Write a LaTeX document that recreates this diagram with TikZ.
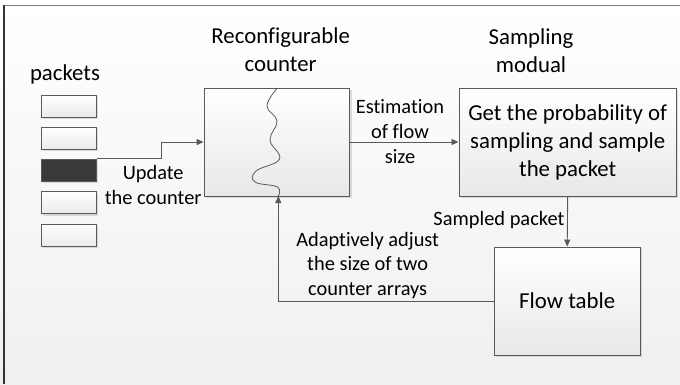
\documentclass[tikz,border=0pt]{standalone}
\usepackage{fontspec}
\setmainfont[Ligatures=NoCommon]{Carlito}
\usetikzlibrary{arrows.meta,shadows}
\definecolor{linegray}{HTML}{595959}
\definecolor{darkpkt}{HTML}{3A3A3A}
\begin{document}
\begin{tikzpicture}[x=1pt,y=-1pt,
  bigfont/.style={font=\fontsize{22.8}{28}\selectfont},
  smallfont/.style={font=\fontsize{20.4}{24.7}\selectfont},
  blockbox/.style={draw=linegray, line width=0.9pt, top color=white, bottom color=black!9,
    drop shadow={shadow xshift=2pt, shadow yshift=-2pt, fill=black, opacity=0.12}},
  pktbox/.style={draw=linegray, line width=0.9pt, top color=white, bottom color=black!8,
    minimum width=55pt, minimum height=22pt, inner sep=0pt,
    drop shadow={shadow xshift=2pt, shadow yshift=-2pt, fill=black, opacity=0.12}},
  conn/.style={draw=linegray, line width=0.9pt, -{Triangle[length=7pt,width=6pt]}},
  lbl/.style={align=center, inner sep=0pt, text=black}]
% canvas and frame
\useasboundingbox (0,0) rectangle (680,384);
\shade[top color=white, bottom color=black!6] (0,0) rectangle (680,384);
\draw[black!50, line width=1.6pt] (4,5.5) -- (680,5.5);
\draw[black!80, line width=1.4pt] (4,5) -- (4,384);

% packet stack
\node[lbl, bigfont] (pktlabel) at (65,74) {packets};
\foreach \i/\y in {1/106, 2/138, 4/202.5, 5/235} {
  \node[pktbox] (p\i) at (68.7,\y) {};
}
\node[pktbox, top color=darkpkt, bottom color=darkpkt] (p3) at (68.7,170) {};

% main blocks
\node[blockbox, minimum width=145.5pt, minimum height=108pt, inner sep=0pt] (counter) at (276.8,142) {};
\node[blockbox, minimum width=217.5pt, minimum height=108pt, inner sep=0pt] (sampler) at (567.7,142) {};
\node[lbl, bigfont] (samplertext) at (567.7,142) {Get the probability of\\sampling and sample\\the packet};
\node[blockbox, minimum width=146.5pt, minimum height=108pt, inner sep=0pt] (flow) at (567.2,301) {};
\node[lbl, bigfont] (flowtext) at (567.2,301) {Flow table};

% titles
\node[lbl, bigfont] (countertitle) at (280.7,50) {Reconfigurable\\counter};
\node[lbl, bigfont] (samplertitle) at (531,50.5) {Sampling\\modual};

% split line inside the counter
\coordinate (waveTop) at (277.3,88);
\coordinate (waveBot) at (278.3,196);
\coordinate (updTurn) at (161.5,142);
\draw[linegray, line width=0.8pt] plot[smooth, tension=0.7] coordinates
  {(waveTop) (267,106) (277,121) (270,140) (279.5,159) (256,171) (255,182) (277.5,187) (waveBot)};

% connectors
\draw[conn] (p3.north east) -| (updTurn) -- (counter.west);
\node[lbl, smallfont] (updlbl) at (153.2,184.7) {Update\\the counter};

\draw[conn] (counter.east) -- (sampler.west);
\node[lbl, smallfont] (estlbl) at (400,131.7) {Estimation\\of flow\\size};

\draw[conn] (sampler.south) -- (flow.north);
\node[lbl, smallfont, anchor=east] (samplbl) at (564.6,220) {Sampled packet};

\draw[conn] (flow.west) -| (waveBot);
\node[lbl, smallfont] (adjlbl) at (367.7,265.5) {Adaptively adjust\\the size of two\\counter arrays};
\end{tikzpicture}
\end{document}
